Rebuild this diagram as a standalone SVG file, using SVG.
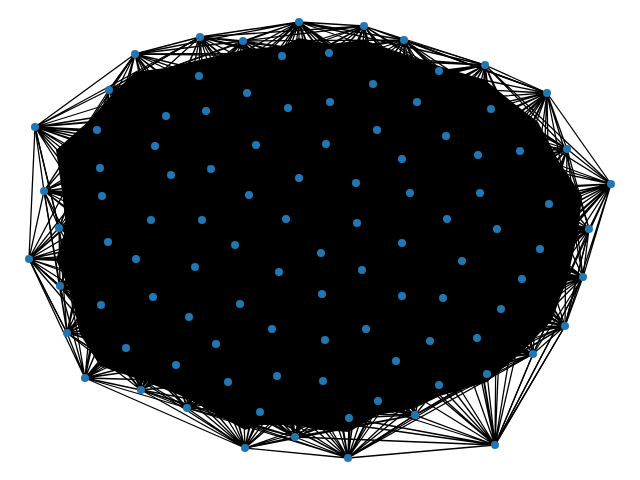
<svg xmlns="http://www.w3.org/2000/svg" width="640" height="480" viewBox="0 0 640 480">
<style>
.e{fill:none;stroke:#000;stroke-width:1.3;stroke-linecap:round}
.n{fill:#1f77b4}
</style>
<rect width="640" height="480" fill="#fff"/>
<g id="connectors">
<polygon fill="#000" points="165,68 199,60 243,50 282,46 299,38 329,44 364,40 404,54 439,66 485,80 512,102 538,122 558,160 582,196 578,232 568,276 552,320 524,350 487,382 440,396 415,408 378,415 349,432 320,430 295,425 260,425 245,430 187,398 141,380 100,366 80,334 70,290 56,260 66,228 62,191 56,150 90,120 109,98 135,72"/>
<path class="e" d="M299 22L200 37M299 22L243 41M299 22L282 56M299 22L329 53M299 22L364 26M299 22L404 40M299 22L373 84M299 22L247 93M299 22L288 108M299 22L330 102M299 22L199 76M299 22L439 71M299 22L417 102M299 22L135 54M299 22L206 111M299 22L377 130M299 22L326 144M299 22L256 145M299 22L166 116M299 22L155 146M299 22L446 136M299 22L402 159M299 22L299 178M299 22L356 183M299 22L211 169M299 22L109 90M299 22L485 65M299 22L478 155"/>
<path class="e" d="M364 26L404 40M364 26L485 65M364 26L439 71M364 26L329 53M364 26L282 56M364 26L373 84M364 26L417 102M364 26L330 102M364 26L288 108M364 26L377 130M364 26L446 136M364 26L247 93M364 26L243 41M364 26L326 144M364 26L402 159M364 26L491 109M364 26L256 145M364 26L299 178M364 26L356 183M364 26L410 193M364 26L478 155M364 26L206 111M364 26L199 76M364 26L547 93M364 26L200 37"/>
<path class="e" d="M404 40L485 65M404 40L439 71M404 40L373 84M404 40L417 102M404 40L491 109M404 40L446 136M404 40L377 130M404 40L330 102M404 40L329 53M404 40L282 56M404 40L402 159M404 40L478 155M404 40L288 108M404 40L547 93M404 40L520 151M404 40L480 193M404 40L410 193M404 40L356 183M404 40L326 144M404 40L247 93M404 40L243 41M404 40L567 149"/>
<path class="e" d="M485 65L547 93M485 65L439 71M485 65L491 109M485 65L417 102M485 65L446 136M485 65L520 151M485 65L478 155M485 65L373 84M485 65L402 159M485 65L377 130M485 65L567 149M485 65L480 193M485 65L410 193M485 65L330 102M485 65L549 204M485 65L447 219M485 65L497 229M485 65L326 144M485 65L356 183M485 65L288 108M485 65L329 53M485 65L282 56M485 65L611 184"/>
<path class="e" d="M547 93L567 149M547 93L611 184M547 93L491 109M547 93L520 151M547 93L478 155M547 93L446 136M547 93L549 204M547 93L480 193M547 93L417 102M547 93L439 71M547 93L402 159M547 93L497 229M547 93L589 229M547 93L410 193M547 93L447 219M547 93L540 249M547 93L462 261M547 93L522 279M547 93L402 243M547 93L357 223M547 93L356 183M547 93L377 130M547 93L373 84M547 93L404 40M547 93L583 277"/>
<path class="e" d="M567 149L611 184M567 149L520 151M567 149L549 204M567 149L589 229M567 149L480 193M567 149L478 155M567 149L491 109M567 149L497 229M567 149L540 249M567 149L446 136M567 149L447 219M567 149L522 279M567 149L462 261M567 149L410 193M567 149L501 309M567 149L443 298M567 149L402 243M567 149L402 159M567 149L417 102M567 149L439 71M567 149L357 223M567 149L583 277M567 149L565 326"/>
<path class="e" d="M611 184L589 229M611 184L583 277M611 184L565 326M611 184L549 204M611 184L520 151M611 184L540 249M611 184L497 229M611 184L522 279M611 184L480 193M611 184L478 155M611 184L462 261M611 184L501 309M611 184L447 219M611 184L491 109M611 184L443 298M611 184L533 354M611 184L402 243M611 184L402 296M611 184L477 338M611 184L487 374M611 184L446 136M611 184L410 193M611 184L430 341"/>
<path class="e" d="M589 229L583 277M589 229L549 204M589 229L540 249M589 229L522 279M589 229L497 229M589 229L501 309M589 229L565 326M589 229L462 261M589 229L480 193M589 229L520 151M589 229L447 219M589 229L477 338M589 229L443 298M589 229L533 354M589 229L402 243M589 229L402 296M589 229L430 341M589 229L487 374M589 229L446 136M589 229L410 193M589 229L478 155"/>
<path class="e" d="M583 277L565 326M583 277L540 249M583 277L522 279M583 277L501 309M583 277L533 354M583 277L477 338M583 277L497 229M583 277L462 261M583 277L443 298M583 277L487 374M583 277L549 204M583 277L430 341M583 277L447 219M583 277L402 296M583 277L396 361M583 277L439 385M583 277L410 193M583 277L402 243M583 277L480 193M583 277L366 329M583 277L362 270M583 277L495 445"/>
<path class="e" d="M565 326L533 354M565 326L501 309M565 326L522 279M565 326L540 249M565 326L487 374M565 326L477 338M565 326L443 298M565 326L462 261M565 326L430 341M565 326L439 385M565 326L497 229M565 326L495 445M565 326L396 361M565 326L402 296M565 326L378 401M565 326L415 415M565 326L366 329M565 326L362 270M565 326L402 243M565 326L447 219M565 326L480 193M565 326L589 229"/>
<path class="e" d="M533 354L487 374M533 354L477 338M533 354L501 309M533 354L522 279M533 354L439 385M533 354L430 341M533 354L443 298M533 354L462 261M533 354L396 361M533 354L415 415M533 354L378 401M533 354L540 249M533 354L495 445M533 354L349 418M533 354L366 329M533 354L402 296M533 354L447 219M533 354L497 229M533 354L362 270M533 354L323 381"/>
<path class="e" d="M495 445L533 354M495 445L565 326M495 445L583 277M495 445L487 374M495 445L439 385M495 445L415 415M495 445L378 401M495 445L349 418M495 445L348 458M495 445L477 338M495 445L430 341M495 445L396 361M495 445L501 309M495 445L443 298M495 445L366 329M495 445L402 296M495 445L323 381M495 445L462 261M495 445L522 279M495 445L325 340M495 445L295 437M495 445L277 376M495 445L362 270M495 445L447 219M495 445L497 229M495 445L540 249M495 445L260 412"/>
<path class="e" d="M415 415L439 385M415 415L378 401M415 415L349 418M415 415L396 361M415 415L487 374M415 415L430 341M415 415L348 458M415 415L323 381M415 415L366 329M415 415L477 338M415 415L295 437M415 415L277 376M415 415L325 340M415 415L402 296M415 415L443 298M415 415L272 329M415 415L260 412M415 415L228 382M415 415L362 270M415 415L501 309M415 415L245 448"/>
<path class="e" d="M348 458L295 437M348 458L245 448M348 458L349 418M348 458L378 401M348 458L415 415M348 458L323 381M348 458L277 376M348 458L260 412M348 458L396 361M348 458L439 385M348 458L366 329M348 458L228 382M348 458L325 340M348 458L430 341M348 458L487 374M348 458L272 329M348 458L216 344M348 458L187 408M348 458L141 390M348 458L176 365M348 458L240 304M348 458L322 294M348 458L362 270M348 458L402 296M348 458L443 298M348 458L477 338M348 458L533 354"/>
<path class="e" d="M295 437L245 448M295 437L260 412M295 437L349 418M295 437L323 381M295 437L277 376M295 437L228 382M295 437L378 401M295 437L187 408M295 437L272 329M295 437L325 340M295 437L216 344M295 437L176 365M295 437L366 329M295 437L396 361M295 437L141 390M295 437L126 348M295 437L189 317M295 437L240 304M295 437L322 294M295 437L279 272M295 437L362 270M295 437L439 385M295 437L430 341"/>
<path class="e" d="M245 448L187 408M245 448L260 412M245 448L228 382M245 448L277 376M245 448L141 390M245 448L176 365M245 448L216 344M245 448L323 381M245 448L189 317M245 448L272 329M245 448L85 378M245 448L349 418M245 448L126 348M245 448L240 304M245 448L153 297M245 448L195 267M245 448L279 272M245 448L322 294M245 448L325 340M245 448L101 305M245 448L67 333M245 448L366 329M245 448L378 401"/>
<path class="e" d="M187 408L141 390M187 408L176 365M187 408L228 382M187 408L260 412M187 408L216 344M187 408L126 348M187 408L189 317M187 408L277 376M187 408L153 297M187 408L240 304M187 408L85 378M187 408L272 329M187 408L101 305M187 408L136 259M187 408L195 267M187 408L235 245M187 408L279 272M187 408L325 340M187 408L323 381M187 408L67 333M187 408L60 286"/>
<path class="e" d="M141 390L85 378M141 390L126 348M141 390L176 365M141 390L216 344M141 390L189 317M141 390L153 297M141 390L101 305M141 390L228 382M141 390L67 333M141 390L240 304M141 390L136 259M141 390L108 242M141 390L195 267M141 390L235 245M141 390L272 329M141 390L260 412M141 390L277 376M141 390L60 286M141 390L29 259M141 390L151 220"/>
<path class="e" d="M85 378L67 333M85 378L29 259M85 378L60 286M85 378L101 305M85 378L126 348M85 378L153 297M85 378L176 365M85 378L189 317M85 378L136 259M85 378L108 242M85 378L216 344M85 378L151 220M85 378L195 267M85 378L240 304M85 378L228 382M85 378L102 196M85 378L59 228M85 378L272 329M85 378L235 245"/>
<path class="e" d="M67 333L60 286M67 333L29 259M67 333L101 305M67 333L126 348M67 333L153 297M67 333L136 259M67 333L108 242M67 333L59 228M67 333L189 317M67 333L195 267M67 333L176 365M67 333L102 196M67 333L151 220M67 333L202 220M67 333L240 304M67 333L216 344M67 333L235 245M67 333L44 191M67 333L100 168"/>
<path class="e" d="M60 286L29 259M60 286L59 228M60 286L101 305M60 286L108 242M60 286L136 259M60 286L153 297M60 286L102 196M60 286L151 220M60 286L189 317M60 286L195 267M60 286L126 348M60 286L100 168M60 286L202 220M60 286L235 245M60 286L240 304M60 286L176 365M60 286L216 344M60 286L44 191M60 286L171 175"/>
<path class="e" d="M29 259L59 228M29 259L44 191M29 259L35 127M29 259L108 242M29 259L101 305M29 259L102 196M29 259L136 259M29 259L151 220M29 259L100 168M29 259L153 297M29 259L195 267M29 259L97 130M29 259L171 175M29 259L202 220M29 259L235 245M29 259L189 317M29 259L126 348M29 259L67 333M29 259L60 286M29 259L155 146"/>
<path class="e" d="M59 228L44 191M59 228L102 196M59 228L108 242M59 228L100 168M59 228L151 220M59 228L136 259M59 228L101 305M59 228L97 130M59 228L171 175M59 228L202 220M59 228L153 297M59 228L155 146M59 228L211 169M59 228L235 245M59 228L195 267M59 228L189 317M59 228L126 348M59 228L35 127M59 228L249 195"/>
<path class="e" d="M44 191L35 127M44 191L97 130M44 191L100 168M44 191L102 196M44 191L108 242M44 191L151 220M44 191L155 146M44 191L171 175M44 191L136 259M44 191L109 90M44 191L166 116M44 191L211 169M44 191L202 220M44 191L195 267M44 191L101 305M44 191L206 111M44 191L249 195M44 191L135 54"/>
<path class="e" d="M35 127L109 90M35 127L135 54M35 127L97 130M35 127L100 168M35 127L102 196M35 127L155 146M35 127L166 116M35 127L171 175M35 127L151 220M35 127L59 228M35 127L108 242M35 127L206 111M35 127L199 76M35 127L211 169M35 127L247 93M35 127L256 145M35 127L249 195M35 127L202 220M35 127L136 259M35 127L200 37"/>
<path class="e" d="M109 90L135 54M109 90L199 76M109 90L166 116M109 90L206 111M109 90L155 146M109 90L97 130M109 90L100 168M109 90L171 175M109 90L247 93M109 90L211 169M109 90L102 196M109 90L256 145M109 90L249 195M109 90L151 220M109 90L202 220M109 90L288 108M109 90L200 37M109 90L243 41M109 90L59 228"/>
<path class="e" d="M135 54L200 37M135 54L243 41M135 54L199 76M135 54L109 90M135 54L166 116M135 54L206 111M135 54L247 93M135 54L97 130M135 54L155 146M135 54L282 56M135 54L288 108M135 54L256 145M135 54L171 175M135 54L211 169M135 54L249 195M135 54L330 102M135 54L326 144M135 54L100 168M135 54L329 53M135 54L102 196"/>
<path class="e" d="M200 37L243 41M200 37L282 56M200 37L199 76M200 37L247 93M200 37L206 111M200 37L166 116M200 37L288 108M200 37L256 145M200 37L155 146M200 37L330 102M200 37L109 90M200 37L211 169M200 37L171 175M200 37L249 195M200 37L299 178M200 37L326 144M200 37L373 84M200 37L329 53M200 37L97 130"/>
<path class="e" d="M243 41L282 56M243 41L329 53M243 41L199 76M243 41L247 93M243 41L288 108M243 41L206 111M243 41L330 102M243 41L256 145M243 41L166 116M243 41L373 84M243 41L155 146M243 41L211 169M243 41L249 195M243 41L299 178M243 41L326 144M243 41L377 130M243 41L417 102"/>
<path class="e" d="M97 130L166 116M97 130L155 146M97 130L100 168M97 130L171 175M97 130L206 111M97 130L102 196M97 130L151 220M100 168L155 146M100 168L171 175M100 168L151 220M100 168L202 220M102 196L151 220M102 196L136 259M102 196L171 175M108 242L151 220M108 242L136 259M108 242L195 267M101 305L153 297M101 305L136 259M101 305L189 317M126 348L189 317M126 348L176 365M126 348L216 344M126 348L153 297"/>
<path class="e" d="M282 56L329 53M282 56L247 93M282 56L288 108M282 56L373 84M329 53L373 84M329 53L330 102M329 53L417 102M439 71L417 102M439 71L491 109M439 71L446 136M439 71L373 84M491 109L520 151M491 109L478 155M491 109L446 136M520 151L549 204M520 151L480 193M549 204L540 249M549 204L497 229M549 204L480 193M540 249L522 279M540 249L497 229M540 249L462 261M522 279L501 309M522 279L462 261M501 309L477 338M501 309L443 298M487 374L439 385M487 374L477 338M487 374L430 341M439 385L378 401M439 385L396 361M378 401L349 418M378 401L396 361M349 418L323 381M349 418L260 412M260 412L228 382M260 412L277 376M199 76L166 116M199 76L206 111M199 76L247 93"/>
</g>
<g id="nodes">
<g id="n1"><circle class="n" cx="299" cy="22" r="4"/></g>
<g id="n2"><circle class="n" cx="364" cy="26" r="4"/></g>
<g id="n3"><circle class="n" cx="404" cy="40" r="4"/></g>
<g id="n4"><circle class="n" cx="485" cy="65" r="4"/></g>
<g id="n5"><circle class="n" cx="547" cy="93" r="4"/></g>
<g id="n6"><circle class="n" cx="567" cy="149" r="4"/></g>
<g id="n7"><circle class="n" cx="611" cy="184" r="4"/></g>
<g id="n8"><circle class="n" cx="589" cy="229" r="4"/></g>
<g id="n9"><circle class="n" cx="583" cy="277" r="4"/></g>
<g id="n10"><circle class="n" cx="565" cy="326" r="4"/></g>
<g id="n11"><circle class="n" cx="533" cy="354" r="4"/></g>
<g id="n12"><circle class="n" cx="495" cy="445" r="4"/></g>
<g id="n13"><circle class="n" cx="415" cy="415" r="4"/></g>
<g id="n14"><circle class="n" cx="348" cy="458" r="4"/></g>
<g id="n15"><circle class="n" cx="295" cy="437" r="4"/></g>
<g id="n16"><circle class="n" cx="245" cy="448" r="4"/></g>
<g id="n17"><circle class="n" cx="187" cy="408" r="4"/></g>
<g id="n18"><circle class="n" cx="141" cy="390" r="4"/></g>
<g id="n19"><circle class="n" cx="85" cy="378" r="4"/></g>
<g id="n20"><circle class="n" cx="67" cy="333" r="4"/></g>
<g id="n21"><circle class="n" cx="60" cy="286" r="4"/></g>
<g id="n22"><circle class="n" cx="29" cy="259" r="4"/></g>
<g id="n23"><circle class="n" cx="59" cy="228" r="4"/></g>
<g id="n24"><circle class="n" cx="44" cy="191" r="4"/></g>
<g id="n25"><circle class="n" cx="35" cy="127" r="4"/></g>
<g id="n26"><circle class="n" cx="97" cy="130" r="4"/></g>
<g id="n27"><circle class="n" cx="109" cy="90" r="4"/></g>
<g id="n28"><circle class="n" cx="135" cy="54" r="4"/></g>
<g id="n29"><circle class="n" cx="200" cy="37" r="4"/></g>
<g id="n30"><circle class="n" cx="243" cy="41" r="4"/></g>
<g id="n31"><circle class="n" cx="282" cy="56" r="4"/></g>
<g id="n32"><circle class="n" cx="329" cy="53" r="4"/></g>
<g id="n33"><circle class="n" cx="439" cy="71" r="4"/></g>
<g id="n34"><circle class="n" cx="199" cy="76" r="4"/></g>
<g id="n35"><circle class="n" cx="373" cy="84" r="4"/></g>
<g id="n36"><circle class="n" cx="247" cy="93" r="4"/></g>
<g id="n37"><circle class="n" cx="288" cy="108" r="4"/></g>
<g id="n38"><circle class="n" cx="330" cy="102" r="4"/></g>
<g id="n39"><circle class="n" cx="417" cy="102" r="4"/></g>
<g id="n40"><circle class="n" cx="491" cy="109" r="4"/></g>
<g id="n41"><circle class="n" cx="206" cy="111" r="4"/></g>
<g id="n42"><circle class="n" cx="166" cy="116" r="4"/></g>
<g id="n43"><circle class="n" cx="377" cy="130" r="4"/></g>
<g id="n44"><circle class="n" cx="446" cy="136" r="4"/></g>
<g id="n45"><circle class="n" cx="155" cy="146" r="4"/></g>
<g id="n46"><circle class="n" cx="256" cy="145" r="4"/></g>
<g id="n47"><circle class="n" cx="326" cy="144" r="4"/></g>
<g id="n48"><circle class="n" cx="520" cy="151" r="4"/></g>
<g id="n49"><circle class="n" cx="478" cy="155" r="4"/></g>
<g id="n50"><circle class="n" cx="402" cy="159" r="4"/></g>
<g id="n51"><circle class="n" cx="100" cy="168" r="4"/></g>
<g id="n52"><circle class="n" cx="171" cy="175" r="4"/></g>
<g id="n53"><circle class="n" cx="211" cy="169" r="4"/></g>
<g id="n54"><circle class="n" cx="299" cy="178" r="4"/></g>
<g id="n55"><circle class="n" cx="356" cy="183" r="4"/></g>
<g id="n56"><circle class="n" cx="410" cy="193" r="4"/></g>
<g id="n57"><circle class="n" cx="480" cy="193" r="4"/></g>
<g id="n58"><circle class="n" cx="549" cy="204" r="4"/></g>
<g id="n59"><circle class="n" cx="102" cy="196" r="4"/></g>
<g id="n60"><circle class="n" cx="249" cy="195" r="4"/></g>
<g id="n61"><circle class="n" cx="151" cy="220" r="4"/></g>
<g id="n62"><circle class="n" cx="202" cy="220" r="4"/></g>
<g id="n63"><circle class="n" cx="286" cy="219" r="4"/></g>
<g id="n64"><circle class="n" cx="357" cy="223" r="4"/></g>
<g id="n65"><circle class="n" cx="447" cy="219" r="4"/></g>
<g id="n66"><circle class="n" cx="497" cy="229" r="4"/></g>
<g id="n67"><circle class="n" cx="108" cy="242" r="4"/></g>
<g id="n68"><circle class="n" cx="235" cy="245" r="4"/></g>
<g id="n69"><circle class="n" cx="321" cy="253" r="4"/></g>
<g id="n70"><circle class="n" cx="402" cy="243" r="4"/></g>
<g id="n71"><circle class="n" cx="540" cy="249" r="4"/></g>
<g id="n72"><circle class="n" cx="136" cy="259" r="4"/></g>
<g id="n73"><circle class="n" cx="195" cy="267" r="4"/></g>
<g id="n74"><circle class="n" cx="279" cy="272" r="4"/></g>
<g id="n75"><circle class="n" cx="362" cy="270" r="4"/></g>
<g id="n76"><circle class="n" cx="462" cy="261" r="4"/></g>
<g id="n77"><circle class="n" cx="522" cy="279" r="4"/></g>
<g id="n78"><circle class="n" cx="101" cy="305" r="4"/></g>
<g id="n79"><circle class="n" cx="153" cy="297" r="4"/></g>
<g id="n80"><circle class="n" cx="240" cy="304" r="4"/></g>
<g id="n81"><circle class="n" cx="322" cy="294" r="4"/></g>
<g id="n82"><circle class="n" cx="402" cy="296" r="4"/></g>
<g id="n83"><circle class="n" cx="443" cy="298" r="4"/></g>
<g id="n84"><circle class="n" cx="501" cy="309" r="4"/></g>
<g id="n85"><circle class="n" cx="189" cy="317" r="4"/></g>
<g id="n86"><circle class="n" cx="272" cy="329" r="4"/></g>
<g id="n87"><circle class="n" cx="366" cy="329" r="4"/></g>
<g id="n88"><circle class="n" cx="126" cy="348" r="4"/></g>
<g id="n89"><circle class="n" cx="216" cy="344" r="4"/></g>
<g id="n90"><circle class="n" cx="325" cy="340" r="4"/></g>
<g id="n91"><circle class="n" cx="430" cy="341" r="4"/></g>
<g id="n92"><circle class="n" cx="477" cy="338" r="4"/></g>
<g id="n93"><circle class="n" cx="176" cy="365" r="4"/></g>
<g id="n94"><circle class="n" cx="396" cy="361" r="4"/></g>
<g id="n95"><circle class="n" cx="228" cy="382" r="4"/></g>
<g id="n96"><circle class="n" cx="277" cy="376" r="4"/></g>
<g id="n97"><circle class="n" cx="323" cy="381" r="4"/></g>
<g id="n98"><circle class="n" cx="439" cy="385" r="4"/></g>
<g id="n99"><circle class="n" cx="487" cy="374" r="4"/></g>
<g id="n100"><circle class="n" cx="378" cy="401" r="4"/></g>
<g id="n101"><circle class="n" cx="260" cy="412" r="4"/></g>
<g id="n102"><circle class="n" cx="349" cy="418" r="4"/></g>
</g>
</svg>
